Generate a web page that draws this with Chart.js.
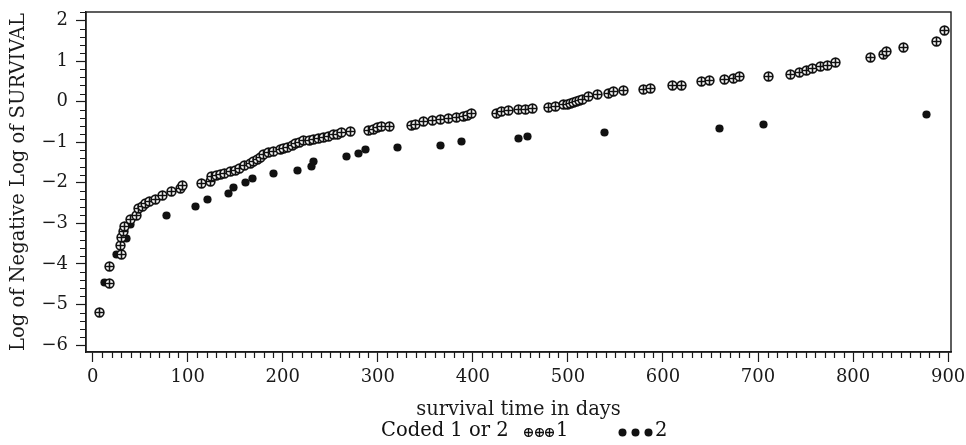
<!DOCTYPE html>
<html><head><meta charset="utf-8">
<style>
html,body{margin:0;padding:0;background:#fff;}
#wrap{position:relative;width:966px;height:445px;overflow:hidden;}
#c{position:absolute;left:0;top:0;}
.lg{position:absolute;font-family:"DejaVu Serif",serif;font-size:19.5px;line-height:22px;color:#111;white-space:nowrap;}
.mk{position:absolute;}
</style>
<script src="https://cdn.jsdelivr.net/npm/chart.js@4/dist/chart.umd.min.js"></script>
</head><body>
<div id="wrap">
<canvas id="c" width="966" height="445"></canvas>
<span class="lg" style="left:381px;top:419px;">Coded 1 or 2</span>
<span class="lg" style="left:556px;top:419px;">1</span>
<span class="lg" style="left:655px;top:419px;">2</span>
</div>
<script>
// ---- data ----
const code1Days = [7,17.5,17.5,30,29.5,30.5,32,34,40,46,48,52,56,60,66,74,83,92,95,115,123.5,125,130,134,139,145,150,155,160,166,169,173,177,180,185,190,198,201,205,210,213,218,222,228,232,238,243,248,253,258,262,271,290,295,300,304,312,335,340,348,357,366,374,383,390,394,399,425,430,437,448,455,463,480,487,495,500,503,506,509,512,515,522,531,543,548,558,580,587,610,620,641,649,665,674,681,711,734,744,751,757,766,773,781,818,832,835,853,888,896];
const code1LogLog = [-5.19,-4.47,-4.07,-3.76,-3.54,-3.35,-3.21,-3.07,-2.9,-2.8,-2.63,-2.58,-2.51,-2.46,-2.4,-2.31,-2.22,-2.14,-2.07,-2.02,-1.96,-1.85,-1.82,-1.79,-1.77,-1.73,-1.69,-1.64,-1.58,-1.52,-1.48,-1.43,-1.37,-1.31,-1.26,-1.22,-1.19,-1.15,-1.12,-1.08,-1.04,-1.0,-0.96,-0.96,-0.94,-0.91,-0.88,-0.85,-0.82,-0.80,-0.77,-0.73,-0.71,-0.68,-0.64,-0.62,-0.60,-0.59,-0.57,-0.50,-0.47,-0.44,-0.41,-0.39,-0.37,-0.33,-0.29,-0.29,-0.25,-0.22,-0.20,-0.19,-0.16,-0.14,-0.12,-0.08,-0.07,-0.05,-0.03,0.0,0.02,0.06,0.12,0.17,0.20,0.25,0.27,0.31,0.33,0.39,0.41,0.49,0.52,0.55,0.58,0.63,0.63,0.68,0.73,0.77,0.82,0.86,0.89,0.96,1.09,1.17,1.24,1.34,1.49,1.76];
const code2Days = [12,25,36,40,78,108,121,143,148,161,168,190,215,230,232,267,280,287,321,366,388,448,457,538,659,706,877];
const code2LogLog = [-4.46,-3.76,-3.37,-3.03,-2.8,-2.59,-2.41,-2.26,-2.11,-1.99,-1.9,-1.77,-1.69,-1.59,-1.48,-1.34,-1.27,-1.19,-1.13,-1.07,-0.99,-0.92,-0.86,-0.77,-0.67,-0.56,-0.32];
const xTickValues = [0,100,200,300,400,500,600,700,800,900];
const yTickValues = [-6,-5,-4,-3,-2,-1,0,1,2];
const xTitle = 'survival time in days';
const yTitle = 'Log of Negative Log of SURVIVAL';

// ---- marker images ----
function plusCircle(r, lw){
  const s = 2*Math.ceil(r+lw) + 1;
  const cv = document.createElement('canvas'); cv.width = s; cv.height = s;
  const g = cv.getContext('2d'); const c = s/2;
  g.fillStyle = '#fff'; g.strokeStyle = '#111'; g.lineWidth = lw;
  g.beginPath(); g.arc(c,c,r,0,Math.PI*2); g.fill(); g.stroke();
  g.beginPath(); g.moveTo(c-r,c); g.lineTo(c+r,c); g.moveTo(c,c-r); g.lineTo(c,c+r); g.stroke();
  return cv;
}
function dot(r){
  const s = 2*Math.ceil(r+1) + 1;
  const cv = document.createElement('canvas'); cv.width = s; cv.height = s;
  const g = cv.getContext('2d'); const c = s/2;
  g.fillStyle = '#111'; g.beginPath(); g.arc(c,c,r,0,Math.PI*2); g.fill();
  return cv;
}
const m1 = plusCircle(4.4, 1.6);
const m2 = dot(4.1);

// legend markers
const wrap = document.getElementById('wrap');
function placeMarker(cv, cx, cy){
  cv.className = 'mk'; cv.style.left = Math.round(cx - cv.width/2) + 'px'; cv.style.top = Math.round(cy - cv.height/2) + 'px';
  wrap.appendChild(cv);
}
[528.5,539,549.5].forEach(cx => placeMarker(plusCircle(3.9,1.3), cx, 432));
[622,635,648].forEach(cx => placeMarker(dot(4), cx, 432));

const FONT = 'DejaVu Serif';
const INK = '#1a1a1a';

const crisp = {
  id: 'crisp',
  beforeDatasetsDraw(chart){ chart.ctx.save(); chart.ctx.imageSmoothingEnabled = false; },
  afterDatasetsDraw(chart){ chart.ctx.restore(); }
};

const frame = {
  id: 'frame',
  afterDraw(chart){
    const {ctx, chartArea: a, scales: {x, y}} = chart;
    ctx.save();
    ctx.strokeStyle = INK; ctx.lineWidth = 1.2;
    ctx.beginPath();
    for (let v = 0; v <= 900; v += 10) {
      if (v % 100 === 0) continue;
      const px = Math.round(x.getPixelForValue(v)) + 0.5;
      ctx.moveTo(px, a.bottom); ctx.lineTo(px, a.bottom + 6);
    }
    for (let k = -30; k <= 11; k++) {
      if (k % 5 === 0) continue;
      const v = k / 5;
      if (v < y.min || v > y.max) continue;
      const py = Math.round(y.getPixelForValue(v)) + 0.5;
      ctx.moveTo(a.left, py); ctx.lineTo(a.left - 6, py);
    }
    ctx.stroke();
    ctx.lineWidth = 1.4;
    ctx.strokeRect(a.left, a.top, a.right - a.left, a.bottom - a.top);
    ctx.restore();
  }
};

const toPts = (xs, ys) => xs.map((v, i) => ({x: v, y: ys[i]}));

new Chart(document.getElementById('c'), {
  type: 'scatter',
  data: {
    datasets: [
      {label: '1', data: toPts(code1Days, code1LogLog), pointStyle: m1, pointRadius: 5, showLine: false},
      {label: '2', data: toPts(code2Days, code2LogLog), pointStyle: m2, pointRadius: 5, showLine: false}
    ]
  },
  options: {
    responsive: false, animation: false,
    layout: {padding: {top: 12, right: 15, bottom: 23, left: 0}},
    plugins: {legend: {display: false}, tooltip: {enabled: false}},
    scales: {
      x: {
        type: 'linear', position: 'bottom', min: -7, max: 903,
        afterBuildTicks: s => { s.ticks = xTickValues.map(v => ({value: v})); },
        afterFit: s => { s.height = 70; s.paddingLeft = 0; s.paddingRight = 0; },
        ticks: {font: {family: FONT, size: 18}, color: INK, padding: 5, maxRotation: 0, autoSkip: false},
        grid: {drawOnChartArea: false, tickLength: 10, tickColor: INK, tickWidth: 1.2},
        border: {display: true, color: INK, width: 1.4},
        title: {display: true, text: xTitle, font: {family: FONT, size: 19.5}, color: INK, padding: {top: 0, bottom: 0}}
      },
      y: {
        type: 'linear', position: 'left', min: -6.17, max: 2.21,
        afterBuildTicks: s => { s.ticks = yTickValues.map(v => ({value: v})); },
        afterFit: s => { s.width = 86; s.paddingTop = 0; s.paddingBottom = 0; },
        ticks: {font: {family: FONT, size: 18}, color: INK, padding: 8,
          callback: v => (v < 0 ? '\u2212' + Math.abs(v) : String(v))},
        grid: {drawOnChartArea: false, tickLength: 10, tickColor: INK, tickWidth: 1.2},
        border: {display: true, color: INK, width: 1.4},
        title: {display: true, text: yTitle, font: {family: FONT, size: 19.5}, color: INK, padding: {top: 7, bottom: 0}}
      }
    }
  },
  plugins: [crisp, frame]
});
</script>
</body></html>
